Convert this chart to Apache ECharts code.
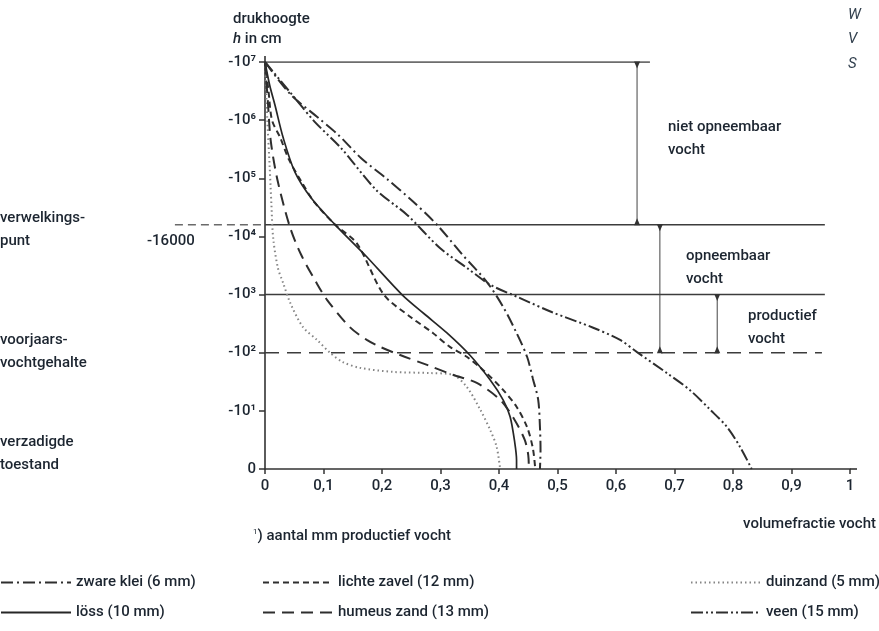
<!DOCTYPE html>
<html>
<head>
<meta charset="utf-8">
<script src="https://cdn.jsdelivr.net/npm/echarts@6/dist/echarts.min.js"></script>
<style>
  html, body { margin: 0; padding: 0; background: #fff; }
  #main { width: 879px; height: 631px; }
</style>
</head>
<body>
<div id="main"></div>
<script>
/* pF-curves: volumefractie vocht (x) tegen drukhoogte als pF (y) */

var FONT = "Roboto, 'Liberation Sans', sans-serif";
var TXT = '#1c2530';

// tick labels
var xTickLabels = ['0', '0,1', '0,2', '0,3', '0,4', '0,5', '0,6', '0,7', '0,8', '0,9', '1'];
var yTickLabels = ['0', '-10¹', '-10²', '-10³', '-10⁴', '-10⁵', '-10⁶', '-10⁷'];

// series: [volumefractie, pF]
var zwareKlei = [[0, 7], [0.044, 6.44], [0.091, 6.04], [0.125, 5.75], [0.164, 5.35], [0.207, 5.0],
  [0.253, 4.6], [0.294, 4.2], [0.338, 3.68], [0.379, 3.22], [0.407, 2.79], [0.43, 2.34],
  [0.448, 1.93], [0.458, 1.55], [0.467, 1.19], [0.47, 0.72], [0.471, 0.33], [0.47, 0]];
var lichteZavel = [[0, 7], [0.006, 6.5], [0.012, 6.0], [0.026, 5.7], [0.041, 5.32], [0.063, 4.93],
  [0.085, 4.58], [0.12, 4.2], [0.157, 3.88], [0.203, 3.0], [0.248, 2.62], [0.287, 2.34],
  [0.316, 2.1], [0.345, 1.93], [0.373, 1.7], [0.407, 1.36], [0.43, 1.07], [0.448, 0.72],
  [0.458, 0.35], [0.462, 0]];
var duinzand = [[0, 7], [0.004, 6.0], [0.008, 5.2], [0.011, 4.54], [0.014, 3.97], [0.022, 3.46],
  [0.031, 3.2], [0.043, 2.86], [0.065, 2.44], [0.089, 2.22], [0.111, 2.0], [0.133, 1.84],
  [0.162, 1.74], [0.219, 1.67], [0.282, 1.65], [0.321, 1.62], [0.345, 1.41], [0.368, 1.02],
  [0.385, 0.67], [0.396, 0.38], [0.402, 0]];
var loess = [[0, 7], [0.008, 6.6], [0.017, 6.26], [0.031, 5.7], [0.051, 5.11], [0.079, 4.66],
  [0.12, 4.2], [0.171, 3.68], [0.234, 3.0], [0.272, 2.67], [0.311, 2.34], [0.35, 1.96],
  [0.385, 1.53], [0.407, 1.19], [0.419, 0.9], [0.427, 0.45], [0.43, 0.15], [0.43, 0]];
var humeusZand = [[0, 7], [0.005, 6.3], [0.01, 5.63], [0.022, 4.94], [0.043, 4.15], [0.062, 3.68],
  [0.087, 3.22], [0.106, 2.91], [0.145, 2.44], [0.174, 2.22], [0.197, 2.1], [0.231, 1.96],
  [0.277, 1.79], [0.321, 1.62], [0.362, 1.48], [0.402, 1.19], [0.427, 0.84], [0.444, 0.5],
  [0.45, 0.24], [0.451, 0]];
var veen = [[0, 7], [0.056, 6.32], [0.085, 5.97], [0.13, 5.52], [0.19, 4.8], [0.243, 4.37],
  [0.299, 3.8], [0.345, 3.46], [0.385, 3.17], [0.436, 2.94], [0.49, 2.7], [0.561, 2.43],
  [0.607, 2.22], [0.636, 2.01], [0.687, 1.65], [0.726, 1.36], [0.761, 1.02], [0.79, 0.72],
  [0.812, 0.38], [0.832, 0]];

// horizontale grenslijnen (pF) en hun eind (volumefractie)
var refPF = [7, 4.2, 3, 2];
var refEnd = [0.658, 0.957, 0.957, 0.952];
var wiltStart = -0.154;   // stippellijn links van de as bij -16000
var wiltPF = 4.2;

// pijlen: x-positie, van pF, tot pF
var arrowX = [0.636, 0.675, 0.773];
var arrowFrom = [7, 4.2, 3];
var arrowTo = [4.2, 2, 2];

function curve(name, data, type, color, width) {
    return {
        name: name,
        type: 'line',
        data: data,
        symbol: 'none',
        smooth: 0.3,
        clip: false,
        lineStyle: { color: color, width: width, type: type, cap: 'butt' },
        itemStyle: { color: color },
        z: 3
    };
}

var series = [
    curve('zware klei (6 mm)', zwareKlei, [12, 4, 2, 4], '#2e2e2e', 2),
    curve('lichte zavel (12 mm)', lichteZavel, [6, 4], '#2e2e2e', 2),
    curve('duinzand (5 mm)', duinzand, [1.5, 3], '#858585', 2),
    curve('löss (10 mm)', loess, 'solid', '#262626', 1.7),
    curve('humeus zand (13 mm)', humeusZand, [12, 7], '#2e2e2e', 2),
    curve('veen (15 mm)', veen, [12, 3, 2, 3, 2, 3], '#2e2e2e', 2)
];

// grenslijnen
refPF.forEach(function (p, i) {
    series.push({
        type: 'line',
        data: [[0, p], [refEnd[i], p]],
        symbol: 'none',
        silent: true,
        lineStyle: { color: '#3c3c3c', width: 1.6, type: p === 2 ? [14, 8] : 'solid' },
        z: 2
    });
});

// pijlen
arrowX.forEach(function (x, i) {
    series.push({
        type: 'line',
        data: [[x, arrowFrom[i]], [x, arrowTo[i]]],
        symbol: 'none',
        silent: true,
        lineStyle: { color: '#444', width: 1 },
        markPoint: {
            symbol: 'triangle',
            symbolSize: [6, 7],
            silent: true,
            itemStyle: { color: '#333' },
            label: { show: false },
            data: [
                { coord: [x, arrowFrom[i]], symbolRotate: 180, symbolOffset: [0, 3] },
                { coord: [x, arrowTo[i]], symbolOffset: [0, -3] }
            ]
        },
        z: 2
    });
});

function txt(x, y, s, extra) {
    var st = { text: s, x: x, y: y, fill: TXT, font: '500 15px ' + FONT, lineHeight: 23 };
    for (var k in extra) st[k] = extra[k];
    return { type: 'text', style: st, z: 10 };
}

var myChart = echarts.init(document.getElementById('main'));

var legendCols = [
    { left: 0, data: ['zware klei (6 mm)', 'löss (10 mm)'] },
    { left: 262, data: ['lichte zavel (12 mm)', 'humeus zand (13 mm)'] },
    { left: 690, data: ['duinzand (5 mm)', 'veen (15 mm)'] }
];

var option = {
    animation: false,
    backgroundColor: '#fff',
    textStyle: { fontFamily: FONT, color: TXT },
    grid: { left: 265, top: 62, width: 585, height: 407 },
    xAxis: {
        type: 'value',
        min: 0,
        max: 1,
        interval: 0.1,
        axisLine: { lineStyle: { color: '#333', width: 1.6 } },
        axisTick: { length: 5, lineStyle: { color: '#333', width: 1.5 } },
        splitLine: { show: false },
        axisLabel: {
            margin: 10,
            fontSize: 15,
            fontWeight: 500,
            color: TXT,
            fontFamily: FONT,
            formatter: function (v) { return xTickLabels[Math.round(v * 10)]; }
        }
    },
    yAxis: {
        type: 'value',
        min: 0,
        max: 7,
        interval: 1,
        axisLine: { show: true, lineStyle: { color: '#333', width: 1.6 } },
        axisTick: { show: true, length: 6, lineStyle: { color: '#333', width: 1.5 } },
        splitLine: { show: false },
        axisLabel: {
            margin: 9,
            fontSize: 15,
            fontWeight: 500,
            color: TXT,
            fontFamily: FONT,
            formatter: function (v) { return yTickLabels[Math.round(v)]; }
        }
    },
    legend: legendCols.map(function (c) {
        return {
            left: c.left,
            top: 575,
            orient: 'vertical',
            data: c.data,
            padding: 0,
            itemWidth: 70,
            itemHeight: 14,
            itemGap: 15,
            selectedMode: false,
            itemStyle: { opacity: 0 },
            textStyle: { fontSize: 15, fontWeight: 500, color: TXT, fontFamily: FONT }
        };
    }),
    graphic: [
        txt(233, 8, 'drukhoogte'),
        { type: 'text', z: 10, style: { x: 233, y: 32, fill: TXT,
            text: '{i|h} in cm', font: '500 15px ' + FONT,
            rich: { i: { fontStyle: 'italic', fontWeight: 500, fontSize: 15, fontFamily: FONT, fill: TXT } } } },
        txt(0, 207, 'verwelkings-\npunt'),
        txt(147, 230, '-16000'),
        txt(0, 329, 'voorjaars-\nvochtgehalte'),
        txt(0, 431, 'verzadigde\ntoestand'),
        txt(668, 116, 'niet opneembaar\nvocht'),
        txt(686, 245, 'opneembaar\nvocht'),
        txt(748, 305, 'productief\nvocht'),
        txt(876, 513, 'volumefractie vocht', { align: 'right' }),
        { type: 'text', z: 10, style: { x: 253, y: 528, fill: TXT,
            text: '{s|1}) aantal mm productief vocht',
            font: '500 15px ' + FONT,
            rich: { s: { fontSize: 8, fontFamily: FONT, fill: TXT, verticalAlign: 'top', padding: [0, 0, 8, 0] } } } },
        txt(848, 4, 'W', { font: 'italic 15px ' + FONT, fill: '#33414f' }),
        txt(848, 28, 'V', { font: 'italic 15px ' + FONT, fill: '#33414f' }),
        txt(848, 53, 'S', { font: 'italic 15px ' + FONT, fill: '#33414f' })
    ],
    series: series
};

myChart.setOption(option);

// stippellijn bij -16000 links van de y-as (buiten het plotvlak)
var p0 = myChart.convertToPixel({ gridIndex: 0 }, [wiltStart, wiltPF]);
var p1 = myChart.convertToPixel({ gridIndex: 0 }, [0, wiltPF]);
var top7 = myChart.convertToPixel({ gridIndex: 0 }, [0, 7]);
var right1 = myChart.convertToPixel({ gridIndex: 0 }, [1, 0]);
myChart.setOption({
    graphic: option.graphic.concat([
        { type: 'line', z: 5, shape: { x1: p0[0], y1: p0[1], x2: p1[0], y2: p1[1] },
          style: { stroke: '#6a6a6a', lineWidth: 1.6, lineDash: [8, 5] } },
        { type: 'line', z: 5, shape: { x1: top7[0], y1: top7[1], x2: top7[0], y2: top7[1] - 6 },
          style: { stroke: '#333', lineWidth: 1.6 } },
        { type: 'line', z: 5, shape: { x1: right1[0], y1: right1[1], x2: right1[0] + 7, y2: right1[1] },
          style: { stroke: '#333', lineWidth: 1.6 } }
    ])
});
</script>
</body>
</html>
